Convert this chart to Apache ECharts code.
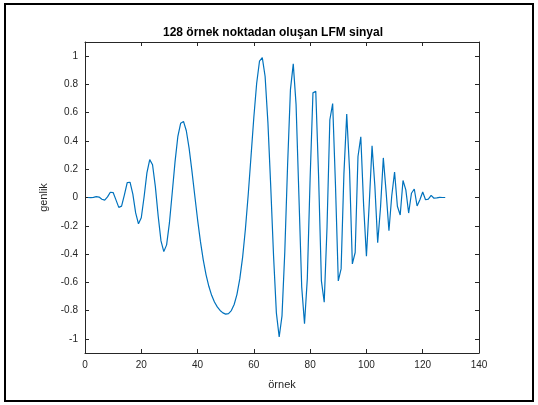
<!DOCTYPE html>
<html>
<head>
<meta charset="utf-8">
<script src="https://cdn.jsdelivr.net/npm/echarts@6/dist/echarts.min.js"></script>
<style>
  html, body { margin: 0; padding: 0; background: #fff; }
  #chart { width: 538px; height: 405px; }
</style>
</head>
<body>
<div id="chart"></div>
<script>
// LFM sinyal: 128 örnek (okunan değerler)
const signal = [
  0.000, -0.001, 0.001, 0.006, 0.003, -0.012, -0.019, 0.004, 0.037, 0.035,
  -0.017, -0.070, -0.061, 0.019, 0.105, 0.108, 0.024, -0.109, -0.186, -0.143,
  0.005, 0.174, 0.268, 0.232, 0.077, -0.131, -0.307, -0.383, -0.335, -0.180,
  0.035, 0.254, 0.433, 0.526, 0.538, 0.472, 0.348, 0.187, 0.014, -0.156,
  -0.309, -0.439, -0.545, -0.628, -0.692, -0.739, -0.774, -0.799, -0.816, -0.825,
  -0.821, -0.800, -0.757, -0.685, -0.576, -0.424, -0.223, 0.021, 0.293, 0.569,
  0.808, 0.964, 0.989, 0.856, 0.528, 0.077, -0.414, -0.816, -0.987, -0.837,
  -0.381, 0.237, 0.763, 0.945, 0.657, 0.018, -0.632, -0.893, -0.572, 0.140,
  0.740, 0.751, 0.150, -0.590, -0.741, -0.209, 0.550, 0.664, 0.088, -0.590,
  -0.505, 0.167, 0.590, 0.194, -0.470, -0.389, 0.290, 0.430, -0.054, -0.415,
  -0.044, 0.365, 0.080, -0.320, -0.073, 0.280, 0.038, -0.235, 0.012, 0.180,
  -0.062, -0.124, 0.120, 0.054, -0.110, 0.030, 0.060, -0.060, -0.016, 0.039,
  -0.016, -0.011, 0.015, -0.005, -0.003, 0.001, 0.000, 0.000
];
const xTicks = [0, 20, 40, 60, 80, 100, 120, 140];
const yTicks = [-1, -0.8, -0.6, -0.4, -0.2, 0, 0.2, 0.4, 0.6, 0.8, 1];

const titleText = '128 örnek noktadan oluşan LFM sinyal';
const xName = 'örnek';
const yName = 'genlik';

const axisColor = '#262626';
const font = 'Liberation Sans, Arial, sans-serif';

const chart = echarts.init(document.getElementById('chart'), null, { renderer: 'canvas' });

const points = signal.map((v, i) => [i + 1, v]);

function boxLine() {
  return { show: true, onZero: false, lineStyle: { color: axisColor, width: 1 } };
}
function boxTick(custom) {
  const t = { show: true, inside: true, length: 4, lineStyle: { color: axisColor } };
  if (custom) t.customValues = custom;
  return t;
}

chart.setOption({
  animation: false,
  backgroundColor: '#fff',
  title: {
    text: titleText,
    left: 158,
    top: 22,
    textStyle: { fontFamily: font, fontSize: 12, fontWeight: 'bold', color: '#000' }
  },
  grid: {
    left: 85, top: 42, right: 59, bottom: 52,
    outerBoundsMode: 'none',
    containLabel: false
  },
  xAxis: [
    {
      type: 'value', position: 'bottom',
      min: 0, max: 140, interval: 20,
      name: xName, nameLocation: 'middle', nameGap: 26,
      nameTextStyle: { fontFamily: font, fontSize: 11, color: axisColor },
      axisLine: boxLine(), axisTick: boxTick(), splitLine: { show: false },
      axisLabel: { fontFamily: font, fontSize: 10, color: axisColor, margin: 7 }
    },
    {
      type: 'value', position: 'top',
      min: 0, max: 140, interval: 20,
      axisLine: boxLine(), axisTick: boxTick(), splitLine: { show: false },
      axisLabel: { show: false }
    }
  ],
  yAxis: [
    {
      type: 'value', position: 'left',
      min: -1.1, max: 1.1,
      name: yName, nameLocation: 'middle', nameGap: 36, nameRotate: 90,
      nameTextStyle: { fontFamily: font, fontSize: 11, color: axisColor },
      axisLine: boxLine(), axisTick: boxTick(yTicks), splitLine: { show: false },
      axisLabel: {
        fontFamily: font, fontSize: 10, color: axisColor, margin: 7,
        customValues: yTicks,
        formatter: v => String(Math.round(v * 10) / 10)
      }
    },
    {
      type: 'value', position: 'right',
      min: -1.1, max: 1.1,
      axisLine: boxLine(), axisTick: boxTick(yTicks), splitLine: { show: false },
      axisLabel: { show: false }
    }
  ],
  series: [{
    type: 'line',
    data: points,
    showSymbol: false,
    lineStyle: { color: '#0072BD', width: 1.2 },
    xAxisIndex: 0,
    yAxisIndex: 0
  }],
  graphic: [{
    type: 'rect',
    shape: { x: 5, y: 4, width: 528, height: 397 },
    style: { fill: 'none', stroke: '#000', lineWidth: 2 },
    silent: true
  }]
});
</script>
</body>
</html>
